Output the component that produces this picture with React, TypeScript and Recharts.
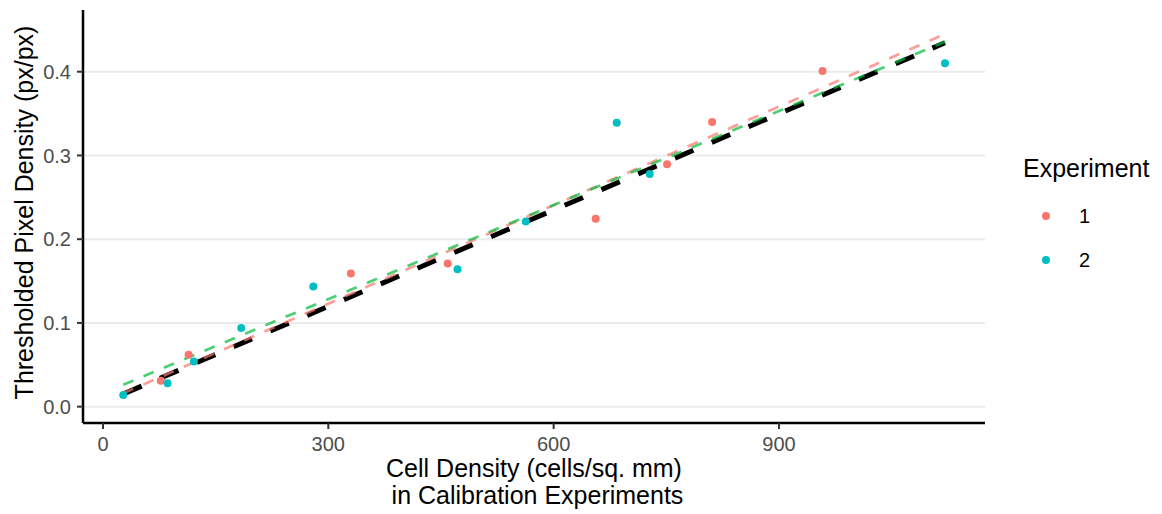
import React from 'react';
import { ComposedChart, Scatter, Line, XAxis, YAxis, CartesianGrid, Label } from 'recharts';

// calibration points
const exp1Density = [77, 114, 330, 459, 656, 751, 811, 958];
const exp1Pixel = [0.031, 0.062, 0.159, 0.171, 0.2245, 0.2895, 0.34, 0.401];
const exp2Density = [27, 86, 121, 184, 280, 472, 563, 684, 728, 1121];
const exp2Pixel = [0.014, 0.028, 0.054, 0.094, 0.1435, 0.164, 0.221, 0.339, 0.278, 0.41];

// fitted lines: [start, end] over the observed density range
const fitDensity = [27, 1121];
const fitAllPixel = [0.0152, 0.4346];
const fitExp1Pixel = [0.016, 0.445];
const fitExp2Pixel = [0.0263, 0.4358];

const xTicks = [0, 300, 600, 900];
const yTicks = [0, 0.1, 0.2, 0.3, 0.4];
const experimentLabels = ['1', '2'];
const experimentColors = ['#F8766D', '#00BFC4'];

const toPoints = (xs: number[], ys: number[]) => xs.map((x, i) => ({ x, y: ys[i] }));

const exp1Points = toPoints(exp1Density, exp1Pixel);
const exp2Points = toPoints(exp2Density, exp2Pixel);
const fitAll = toPoints(fitDensity, fitAllPixel);
const fitExp1 = toPoints(fitDensity, fitExp1Pixel);
const fitExp2 = toPoints(fitDensity, fitExp2Pixel);

const FONT = '"Liberation Sans", Arial, Helvetica, sans-serif';
const tickStyle = { fill: '#4D4D4D', fontSize: 20, fontFamily: FONT };

const dot = (color: string) => (props: any) => (
  <circle cx={props.cx} cy={props.cy} r={4} fill={color} />
);

const XTitle = (props: any) => {
  const { x, y, width } = props.viewBox;
  const cx = x + width / 2;
  return (
    <g fontFamily={FONT} fontSize={25} fill="#000">
      <text x={cx} y={y + 54} textAnchor="middle">Cell Density (cells/sq. mm)</text>
      <text x={cx} y={y + 81} textAnchor="middle">{'\u00a0in Calibration Experiments'}</text>
    </g>
  );
};

const YTitle = (props: any) => {
  const { y, height } = props.viewBox;
  const cy = y + height / 2 - 4;
  return (
    <text
      x={33}
      y={cy}
      transform={`rotate(-90, 33, ${cy})`}
      textAnchor="middle"
      fontFamily={FONT}
      fontSize={25}
      fill="#000"
    >
      Thresholded Pixel Density (px/px)
    </text>
  );
};

const App: React.FC = () => {
  return (
    <div style={{ position: 'absolute', left: 0, top: 0, width: 1162, height: 514, background: '#fff' }}>
      <ComposedChart width={1162} height={514} margin={{ top: 10, right: 177, bottom: 0, left: 0 }}>
        <CartesianGrid vertical={false} syncWithTicks stroke="#EBEBEB" strokeWidth={2} />
        <XAxis
          type="number"
          dataKey="x"
          domain={[-26.6, 1174.3]}
          allowDataOverflow
          ticks={xTicks}
          height={91}
          tickSize={6}
          tickMargin={8}
          tick={tickStyle}
          axisLine={{ stroke: '#000', strokeWidth: 2.5 }}
          tickLine={{ stroke: '#333', strokeWidth: 2 }}
        >
          <Label content={<XTitle />} />
        </XAxis>
        <YAxis
          type="number"
          dataKey="y"
          domain={[-0.0195, 0.4737]}
          allowDataOverflow
          ticks={yTicks}
          width={83}
          tickSize={6}
          tickMargin={6}
          tick={tickStyle}
          tickFormatter={(v: number) => v.toFixed(1)}
          axisLine={{ stroke: '#000', strokeWidth: 2.5 }}
          tickLine={{ stroke: '#333', strokeWidth: 2 }}
        >
          <Label content={<YTitle />} />
        </YAxis>
        <Scatter data={exp1Points} shape={dot(experimentColors[0])} isAnimationActive={false} />
        <Scatter data={exp2Points} shape={dot(experimentColors[1])} isAnimationActive={false} />
        <Line data={fitAll} dataKey="y" stroke="#000" strokeWidth={5} strokeDasharray="20 20"
          dot={false} activeDot={false} isAnimationActive={false} />
        <Line data={fitExp1} dataKey="y" stroke="#F8766D" strokeOpacity={0.7} strokeWidth={2.7}
          strokeDasharray="11 11" dot={false} activeDot={false} isAnimationActive={false} />
        <Line data={fitExp2} dataKey="y" stroke="#00BA38" strokeOpacity={0.7} strokeWidth={2.7}
          strokeDasharray="11 11" dot={false} activeDot={false} isAnimationActive={false} />
      </ComposedChart>
      <svg width={162} height={140} style={{ position: 'absolute', left: 1000, top: 140 }}>
        <text x={23} y={37} fontFamily={FONT} fontSize={25} fill="#000">Experiment</text>
        {experimentLabels.map((lab, i) => (
          <g key={lab}>
            <circle cx={46} cy={76 + i * 44} r={4} fill={experimentColors[i]} />
            <text x={79} y={83 + i * 44} fontFamily={FONT} fontSize={20} fill="#000">{lab}</text>
          </g>
        ))}
      </svg>
    </div>
  );
};

export default App;
